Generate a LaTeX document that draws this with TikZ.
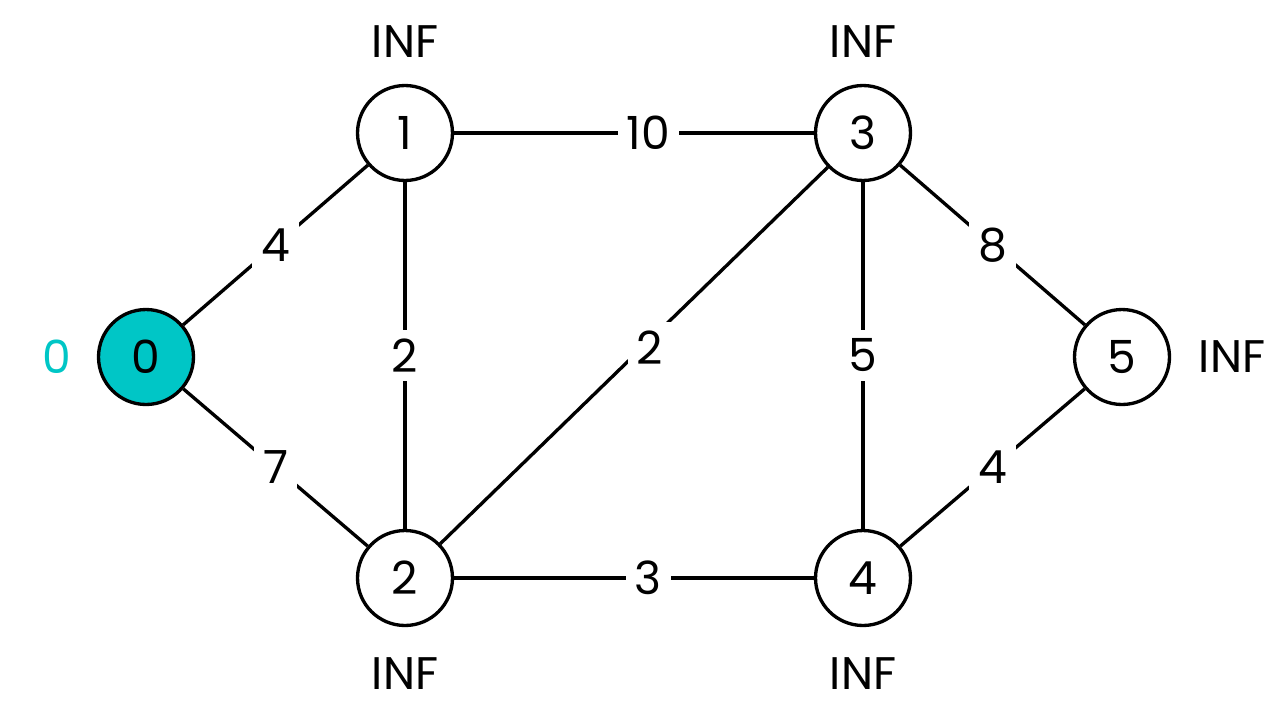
\documentclass[tikz,border=0pt]{standalone}
\usepackage{fontspec}
\setmainfont{Poppins}
\usetikzlibrary{positioning}
\definecolor{srcteal}{RGB}{0,198,198}

\begin{document}
\begin{tikzpicture}[x=0.02cm, y=-0.02cm,
    every node/.style={font=\fontsize{26}{30}\selectfont},
    vertex/.style={circle, draw, line width=1.9pt, minimum size=1.9cm, inner sep=0pt},
    source/.style={vertex, fill=srcteal},
    edge/.style={line width=1.9pt},
    weight/.style={fill=white, inner sep=5pt},
    dist/.style={inner sep=0pt}]

  \useasboundingbox (0,0) rectangle (1281,714);

  \node[source] (v0) at (146,357) {0};
  \node[vertex] (v1) at (405,133) {1};
  \node[vertex] (v2) at (405,578) {2};
  \node[vertex] (v3) at (863,133) {3};
  \node[vertex] (v4) at (863,578) {4};
  \node[vertex] (v5) at (1122,357) {5};

  \node[dist, text=srcteal] (d0) at (57,357) {0};
  \node[dist] (d1) at (405,42) {INF};
  \node[dist] (d3) at (863,42) {INF};
  \node[dist] (d2) at (405,674) {INF};
  \node[dist] (d4) at (863,674) {INF};
  \node[dist] (d5) at (1232,357) {INF};

  \draw[edge] (v0) -- node[weight]{4} (v1);
  \draw[edge] (v0) -- node[weight]{7} (v2);
  \draw[edge] (v1) -- node[weight, pos=0.54]{10} (v3);
  \draw[edge] (v1) -- node[weight]{2} (v2);
  \draw[edge] (v2) -- node[weight, pos=0.54, yshift=-0.15cm]{2} (v3);
  \draw[edge] (v2) -- node[weight, pos=0.54]{3} (v4);
  \draw[edge] (v3) -- node[weight]{5} (v4);
  \draw[edge] (v3) -- node[weight]{8} (v5);
  \draw[edge] (v4) -- node[weight]{4} (v5);
\end{tikzpicture}
\end{document}
